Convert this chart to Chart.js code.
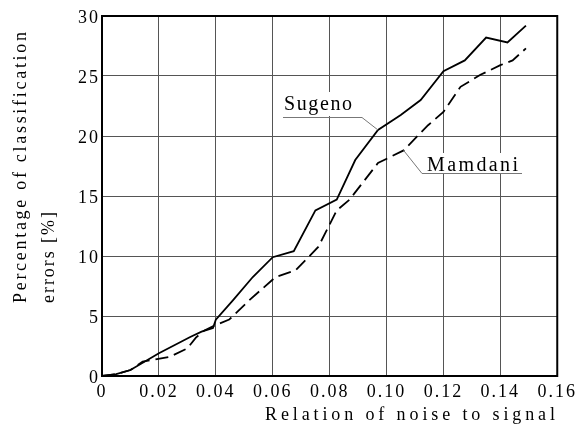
<!DOCTYPE html>
<html>
<head>
<meta charset="utf-8">
<script src="https://cdn.jsdelivr.net/npm/chart.js@4"></script>
<style>
  html, body { margin: 0; padding: 0; background: #fff; }
  #wrap { width: 578px; height: 427px; }
</style>
</head>
<body>
<div id="wrap"><canvas id="chart" width="578" height="427"></canvas></div>
<script>
// values
const sugenoX = [0, 0.005, 0.010, 0.020, 0.031, 0.035, 0.039, 0.040, 0.046, 0.053, 0.060, 0.0674, 0.075, 0.0825, 0.089, 0.097, 0.105, 0.112, 0.120, 0.1275, 0.135, 0.1425, 0.149];
const sugenoY = [0, 0.15, 0.5, 1.9, 3.25, 3.7, 4.0, 4.7, 6.3, 8.25, 9.9, 10.4, 13.8, 14.7, 18.0, 20.5, 21.75, 23.0, 25.4, 26.3, 28.2, 27.8, 29.2];
const mamdaniX = [0, 0.005, 0.010, 0.0143, 0.0238, 0.030, 0.033, 0.036, 0.040, 0.0447, 0.0517, 0.061, 0.068, 0.076, 0.0825, 0.087, 0.097, 0.106, 0.1146, 0.120, 0.126, 0.133, 0.140, 0.1443, 0.149];
const mamdaniY = [0, 0.15, 0.5, 1.2, 1.6, 2.3, 3.2, 3.8, 4.25, 4.7, 6.3, 8.25, 8.8, 10.75, 13.8, 14.7, 17.75, 18.8, 20.9, 22.0, 24.1, 25.1, 25.9, 26.3, 27.3];
const xTicks = [0, 0.02, 0.04, 0.06, 0.08, 0.10, 0.12, 0.14, 0.16];
const yTicks = [0, 5, 10, 15, 20, 25, 30];
const xTitle = "Relation of noise to signal";
const yTitle = ["Percentage of classification", "errors [%]"];
const seriesNames = ["Sugeno", "Mamdani"];

const serif = "'Liberation Serif', 'Times New Roman', serif";

function toPoints(xs, ys) {
    return xs.map((x, i) => ({ x: x, y: ys[i] }));
}

// draw text with letter spacing stretched to a given width
function spacedText(ctx, text, x, y, width) {
    ctx.letterSpacing = "0px";
    const w = ctx.measureText(text).width;
    const sp = (width - w) / (text.length - 1);
    ctx.letterSpacing = sp + "px";
    ctx.fillText(text, x, y);
    ctx.letterSpacing = "0px";
}

const spacingPlugin = {
    id: "spacing",
    beforeDraw(chart) { chart.ctx.letterSpacing = "2px"; },
    afterDraw(chart) { chart.ctx.letterSpacing = "0px"; }
};

// axis titles, leader lines and curve labels
const decorPlugin = {
    id: "decor",
    afterDraw(chart) {
        const ctx = chart.ctx;
        const xs = chart.scales.x, ys = chart.scales.y;
        const area = chart.chartArea;
        ctx.save();
        ctx.letterSpacing = "0px";

        // frame
        ctx.strokeStyle = "#000";
        ctx.lineWidth = 2;
        ctx.strokeRect(area.left, area.top, area.right - area.left, area.bottom - area.top);

        ctx.fillStyle = "#000";
        ctx.font = "18px " + serif;
        ctx.textAlign = "left";
        ctx.textBaseline = "alphabetic";
        spacedText(ctx, xTitle, 265, 420, 290);

        ctx.save();
        ctx.translate(26, 303);
        ctx.rotate(-Math.PI / 2);
        spacedText(ctx, yTitle[0], 0, 0, 271);
        ctx.restore();
        ctx.save();
        ctx.translate(54, 303);
        ctx.rotate(-Math.PI / 2);
        spacedText(ctx, yTitle[1], 0, 0, 91);
        ctx.restore();

        // labels on the curves
        ctx.font = "20px " + serif;
        ctx.lineWidth = 1;
        ctx.strokeStyle = "#777";

        // Sugeno
        let px = 284, py = 110;
        ctx.fillStyle = "#fff";
        ctx.fillRect(px - 2, py - 18, 72, 24);
        ctx.fillStyle = "#000";
        spacedText(ctx, seriesNames[0], px, py, 68);
        ctx.beginPath();
        ctx.moveTo(px - 1, 117.5);
        ctx.lineTo(362, 117.5);
        ctx.lineTo(xs.getPixelForValue(0.097), ys.getPixelForValue(20.5));
        ctx.stroke();

        // Mamdani
        px = 427; py = 171;
        ctx.fillStyle = "#fff";
        ctx.fillRect(px - 2, py - 18, 96, 21);
        ctx.fillStyle = "#000";
        spacedText(ctx, seriesNames[1], px, py, 91);
        ctx.beginPath();
        ctx.moveTo(xs.getPixelForValue(0.106), ys.getPixelForValue(18.8));
        ctx.lineTo(422, 173.5);
        ctx.lineTo(522, 173.5);
        ctx.stroke();

        ctx.restore();
    }
};

new Chart(document.getElementById("chart"), {
    type: "line",
    data: {
        datasets: [
            {
                label: seriesNames[0],
                data: toPoints(sugenoX, sugenoY),
                borderColor: "#000",
                borderWidth: 1.8,
                pointRadius: 0,
                tension: 0
            },
            {
                label: seriesNames[1],
                data: toPoints(mamdaniX, mamdaniY),
                borderColor: "#000",
                borderWidth: 1.8,
                borderDash: [13, 6],
                pointRadius: 0,
                tension: 0
            }
        ]
    },
    options: {
        responsive: false,
        animation: false,
        layout: { padding: { left: 0, right: 18, top: 16, bottom: 0 } },
        plugins: {
            legend: { display: false },
            tooltip: { enabled: false }
        },
        scales: {
            x: {
                type: "linear",
                min: 0,
                max: 0.16,
                afterBuildTicks: s => { s.ticks = xTicks.map(v => ({ value: v })); },
                afterFit: s => { s.height = 51; },
                grid: { color: "#555", lineWidth: 1, drawTicks: false },
                border: { display: false },
                ticks: {
                    color: "#000",
                    padding: 5,
                    font: { family: serif, size: 18 },
                    callback: v => (v === 0 ? "0" : v.toFixed(2))
                }
            },
            y: {
                type: "linear",
                min: 0,
                max: 30,
                afterBuildTicks: s => { s.ticks = yTicks.map(v => ({ value: v })); },
                afterFit: s => { s.width = 102; },
                grid: { color: "#555", lineWidth: 1, drawTicks: false },
                border: { display: false },
                ticks: {
                    color: "#000",
                    padding: 2,
                    labelOffset: 2,
                    font: { family: serif, size: 18 },
                    callback: v => String(v)
                }
            }
        }
    },
    plugins: [spacingPlugin, decorPlugin]
});
</script>
</body>
</html>
